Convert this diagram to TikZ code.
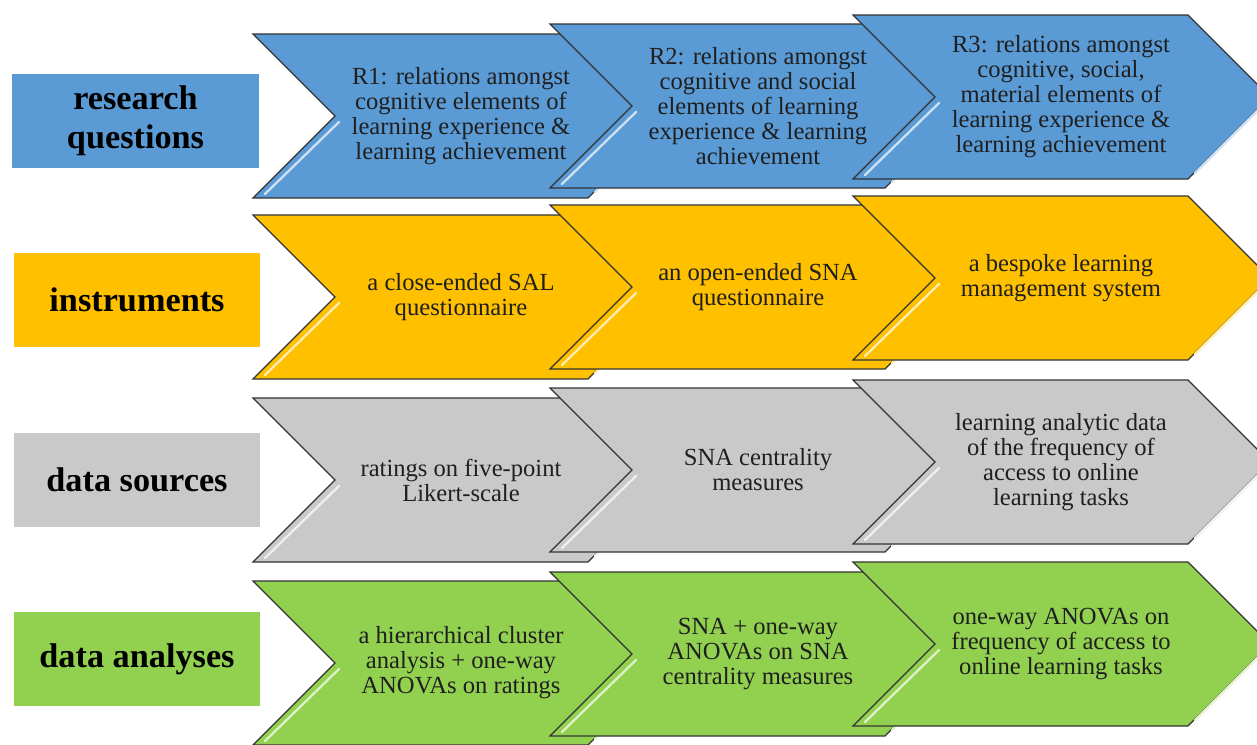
\documentclass[tikz,border=0pt]{standalone}
\usepackage{fontspec}
\setmainfont{Liberation Serif}

\definecolor{rqblue}{HTML}{5B9BD5}
\definecolor{instgold}{HTML}{FFC000}
\definecolor{srcgray}{HTML}{C9C9C9}
\definecolor{anagreen}{HTML}{92D050}

\tikzset{
  chevline/.style={draw=black!80, line width=0.65pt, line join=miter},
  bevel/.style={draw=#1!30!white, line width=1.3pt, line cap=round},
  chevtext/.style={align=center, text=black!88, font=\fontsize{14}{14.2}\selectfont},
  labelbox/.style={fill=#1, minimum width=4.94cm, minimum height=1.88cm, inner sep=0pt,
    align=center, text=black, font=\fontsize{19.5}{22}\selectfont\bfseries}
}

% chevron: x, y (top left), colour, name, text
\newcommand{\chev}[5]{%
  \filldraw[fill=#3, chevline] (#1,#2) -- ++(335,0) -- ++(82,82) -- ++(-82,82)
    -- ++(-335,0) -- ++(82,-82) -- cycle;
  \draw[bevel=#3] (#1+86,#2+88) -- (#1+12,#2+160);
  \draw[bevel=#3] (#1+410,#2+90) -- (#1+342,#2+158);
  \node[chevtext] (#4) at (#1+208,#2+82) {#5};
}

\begin{document}
\begin{tikzpicture}[x=0.02cm, y=-0.02cm]
  \useasboundingbox (0,0) rectangle (1257,744);
  \clip (0,0) rectangle (1257,744);

  % row labels
  \node[labelbox=rqblue] (rq) at (135.5,121) {research\\questions};
  \node[labelbox=instgold] (inst) at (137,300) {instruments};
  \node[labelbox=srcgray] (src) at (137,480) {data sources};
  \node[labelbox=anagreen] (ana) at (137,659) {data analyses};

  % research questions
  \chev{253}{34}{rqblue}{rqa}{R1: relations amongst\\cognitive elements of\\learning experience \&\\learning achievement}
  \chev{550}{24}{rqblue}{rqb}{R2: relations amongst\\cognitive and social\\elements of learning\\experience \& learning\\achievement}
  \chev{853}{15}{rqblue}{rqc}{R3: relations amongst\\cognitive, social,\\material elements of\\learning experience \&\\learning achievement}

  % instruments
  \chev{253}{215}{instgold}{insta}{a close-ended SAL\\questionnaire}
  \chev{550}{205}{instgold}{instb}{an open-ended SNA\\questionnaire}
  \chev{853}{196}{instgold}{instc}{a bespoke learning\\management system}

  % data sources
  \chev{253}{398}{srcgray}{srca}{ratings on five-point\\Likert-scale}
  \chev{550}{388}{srcgray}{srcb}{SNA centrality\\measures}
  \chev{853}{380}{srcgray}{srcc}{learning analytic data\\of the frequency of\\access to online\\learning tasks}

  % data analyses
  \chev{253}{581}{anagreen}{anaa}{a hierarchical cluster\\analysis + one-way\\ANOVAs on ratings}
  \chev{550}{572}{anagreen}{anab}{SNA + one-way\\ANOVAs on SNA\\centrality measures}
  \chev{853}{562}{anagreen}{anac}{one-way ANOVAs on\\frequency of access to\\online learning tasks}
\end{tikzpicture}
\end{document}
